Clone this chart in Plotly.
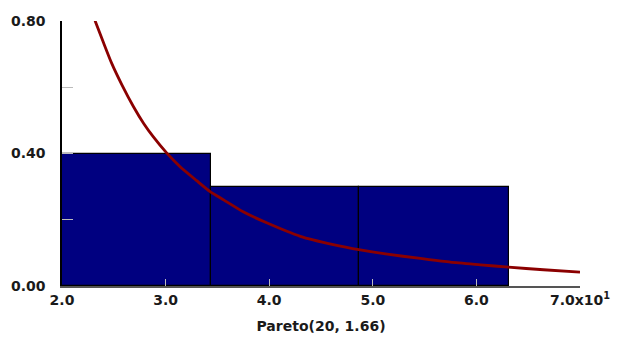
import plotly.graph_objects as go

# Histogram bins (x in units of 10)
bin_left = [2.0, 3.435, 4.87]
bin_right = [3.435, 4.87, 6.31]
bin_height = [0.40, 0.30, 0.30]

# Density curve points
curve_x = [2.319, 2.40, 2.48, 2.577, 2.689, 2.790, 2.882, 3.012, 3.140, 3.300,
           3.430, 3.560, 3.749, 3.981, 4.300, 4.618, 4.879, 5.140, 5.440, 5.749,
           6.039, 6.309, 6.647, 7.0]
curve_y = [0.801, 0.735, 0.672, 0.608, 0.542, 0.490, 0.450, 0.401, 0.360, 0.318,
           0.285, 0.260, 0.224, 0.190, 0.150, 0.125, 0.109, 0.096, 0.084, 0.072,
           0.064, 0.057, 0.049, 0.042]

x_tickvals = [2, 3, 4, 5, 6, 7]
x_ticktext = ["2.0", "3.0", "4.0", "5.0", "6.0", "7.0x10<sup>1</sup>"]
y_tickvals = [0, 0.4, 0.8]
y_ticktext = ["0.00", "0.40", "0.80"]

centers = [(a + b) / 2 for a, b in zip(bin_left, bin_right)]
widths = [b - a for a, b in zip(bin_left, bin_right)]

fig = go.Figure()
fig.add_trace(go.Bar(x=centers, y=bin_height, width=widths,
                     marker=dict(color="#000080", line=dict(color="black", width=1.2)),
                     showlegend=False, hoverinfo="skip"))
fig.add_trace(go.Scatter(x=curve_x, y=curve_y, mode="lines",
                         line=dict(color="#8B0000", width=2.8, shape="spline", smoothing=0.6),
                         showlegend=False))

fam = "DejaVu Sans, Verdana, sans-serif"
tf = dict(family=fam, size=14, color="#1a1a1a", weight="bold")
fig.update_layout(
    width=626, height=343,
    margin=dict(l=62, r=46, t=21, b=57),
    plot_bgcolor="white", paper_bgcolor="white",
    bargap=0,
    xaxis=dict(range=[2, 7], tickvals=x_tickvals, ticktext=x_ticktext,
               ticks="inside", ticklen=7, tickcolor="#bbbbbb", tickwidth=1,
               showline=True, linecolor="#555555", linewidth=1.5,
               showgrid=False, zeroline=False, tickfont=tf,
               title=dict(text="Pareto(20, 1.66)", standoff=15,
                          font=dict(family=fam, size=14, color="#1a1a1a", weight="bold"))),
    yaxis=dict(range=[0, 0.8], tickvals=y_tickvals, ticktext=y_ticktext,
               ticks="inside", ticklen=11, tickcolor="#bbbbbb", tickwidth=1,
               minor=dict(tickvals=[0.2, 0.6], ticks="inside", ticklen=11,
                          tickcolor="#bbbbbb", tickwidth=1),
               ticklabelstandoff=12,
               showline=True, linecolor="black", linewidth=1.5,
               showgrid=False, zeroline=False, tickfont=tf),
)
fig.write_html("out.html")
